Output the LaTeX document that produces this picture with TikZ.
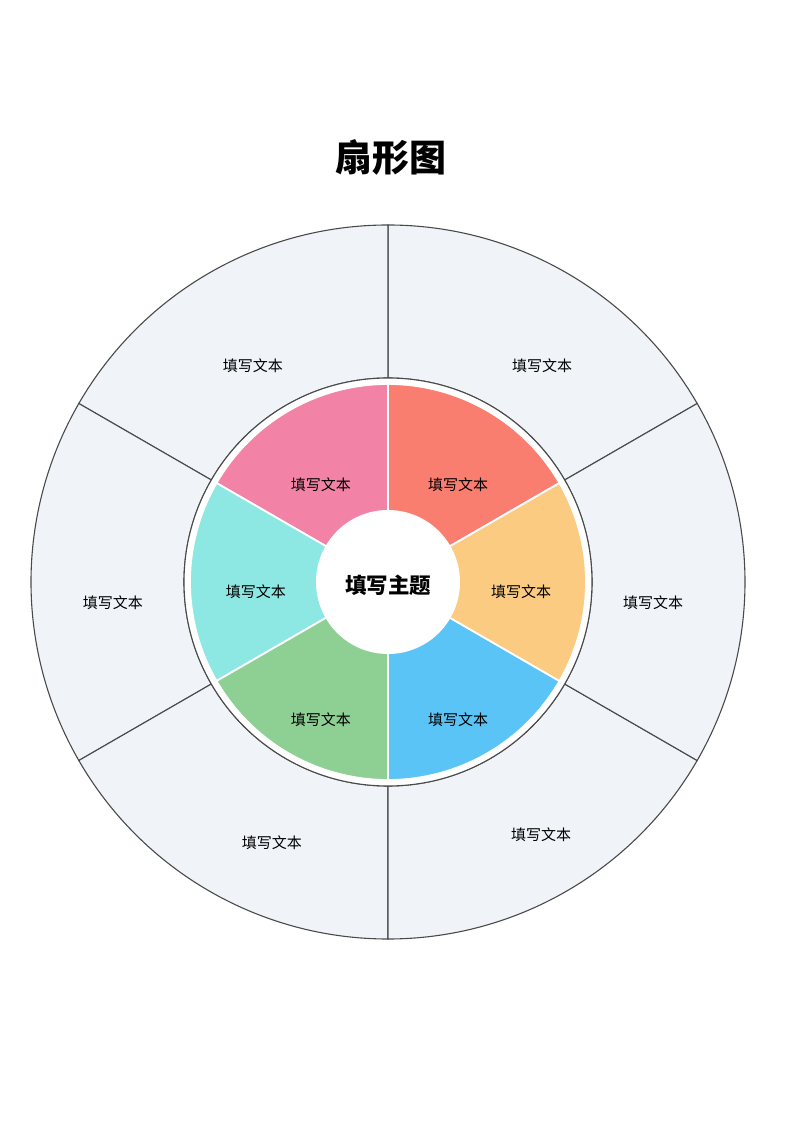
\documentclass[tikz,border=0pt]{standalone}
\usepackage{fontspec}
\setmainfont{Noto Sans CJK SC}
\usetikzlibrary{positioning}
\definecolor{ringfill}{HTML}{F0F4F8}
\definecolor{ringline}{HTML}{4A4A4A}
\definecolor{slicepink}{HTML}{F283A6}
\definecolor{slicered}{HTML}{F97E6F}
\definecolor{sliceorange}{HTML}{FACB81}
\definecolor{sliceblue}{HTML}{5BC4F6}
\definecolor{slicegreen}{HTML}{8ECF93}
\definecolor{slicecyan}{HTML}{8DE7E3}
\begin{document}
\begin{tikzpicture}[x=1pt,y=1pt,
    txt/.style={font=\fontsize{15}{17}\selectfont},
    outer/.style={fill=ringfill,draw=ringline,line width=1.1pt},
    slice/.style={draw=white,line width=1.8pt}]
\useasboundingbox (-388,-549) rectangle (412,582);
\node[font=\fontsize{37}{40}\selectfont\bfseries] (title) at (3,425) {扇形图};
% outer ring
\foreach \a in {30,90,...,330}
    \path[outer] (\a:204pt) arc[start angle=\a,end angle=\a+60,radius=204pt]
        -- (\a+60:357pt) arc[start angle=\a+60,end angle=\a,radius=357pt] -- cycle;
\draw[ringline,fill=white,line width=1.1pt] (0,0) circle[radius=204pt];
% coloured slices
\foreach \a/\col in {30/slicered,90/slicepink,150/slicecyan,210/slicegreen,270/sliceblue,330/sliceorange}
    \path[slice,fill=\col] (0,0) -- (\a:198pt) arc[start angle=\a,end angle=\a+60,radius=198pt] -- cycle;
\fill[white] (0,0) circle[radius=72pt];
\node[font=\fontsize{21.5}{25}\selectfont\bfseries] (topic) at (0,-3) {填写主题};
% inner labels
\node[txt] (in1) at (-67,97) {填写文本};
\node[txt] (in2) at (70,97) {填写文本};
\node[txt] (in3) at (133,-10) {填写文本};
\node[txt] (in4) at (70,-138) {填写文本};
\node[txt] (in5) at (-67,-138) {填写文本};
\node[txt] (in6) at (-132,-10) {填写文本};
% outer labels
\node[txt] (out1) at (-135,216) {填写文本};
\node[txt] (out2) at (154,216) {填写文本};
\node[txt] (out3) at (265,-21) {填写文本};
\node[txt] (out4) at (153,-253) {填写文本};
\node[txt] (out5) at (-116,-261) {填写文本};
\node[txt] (out6) at (-275,-21) {填写文本};
\end{tikzpicture}
\end{document}
